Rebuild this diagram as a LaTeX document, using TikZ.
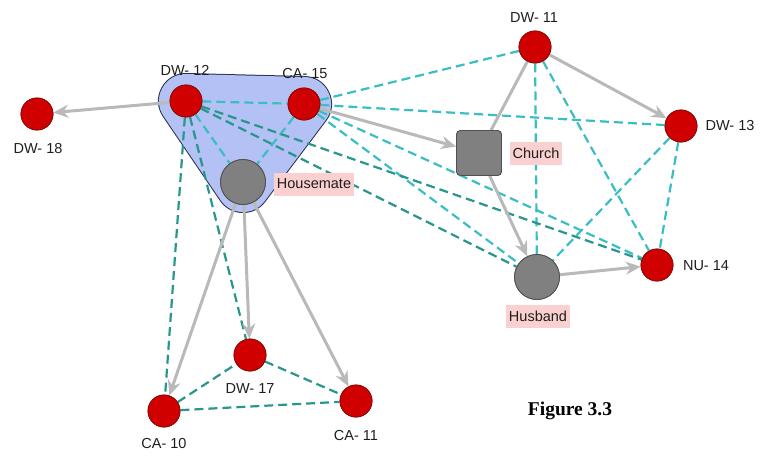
\documentclass[tikz,border=0pt]{standalone}
\usepackage{fontspec}
\setmainfont{Liberation Sans}
\newfontfamily\figfont{Liberation Serif}
\usetikzlibrary{arrows.meta}

\definecolor{actorfill}{RGB}{208,0,0}
\definecolor{actoredge}{RGB}{140,10,10}
\definecolor{placefill}{RGB}{128,128,128}
\definecolor{placeedge}{RGB}{80,80,80}
\definecolor{hullfill}{RGB}{180,193,245}
\definecolor{hulledge}{RGB}{40,48,80}
\definecolor{tiefill}{RGB}{185,185,185}
\definecolor{tealA}{RGB}{56,190,195}
\definecolor{tealB}{RGB}{40,150,140}
\definecolor{tagbg}{RGB}{250,208,208}
\definecolor{txt}{RGB}{30,30,30}

\tikzset{
  actor/.style={circle, fill=actorfill, draw=actoredge, line width=0.8pt,
                minimum size=32pt, inner sep=0pt},
  person/.style={circle, fill=placefill, draw=placeedge, line width=0.8pt,
                 minimum size=45pt, inner sep=0pt},
  place/.style={rectangle, rounded corners=4pt, fill=placefill, draw=placeedge,
                line width=0.8pt, minimum size=45pt, inner sep=0pt},
  nlabel/.style={text=txt, font=\fontsize{14.5}{16}\selectfont, inner sep=0pt},
  tag/.style={fill=tagbg, text=txt, font=\fontsize{14.5}{16}\selectfont,
              inner sep=3pt, minimum height=23pt},
  tie/.style={draw=tiefill, line width=3pt,
              -{Stealth[length=15pt,width=13pt,inset=5pt]}},
  bond/.style={draw=tiefill, line width=3pt},
  lite/.style={draw=tealA, line width=2.2pt, dash pattern=on 9pt off 5pt},
  deep/.style={draw=tealB, line width=2.2pt, dash pattern=on 9pt off 5pt},
}

\begin{document}
\begin{tikzpicture}[x=1pt, y=-1pt]
\useasboundingbox (0,0) rectangle (760,455);

% group outline around the household
\coordinate (h1) at (186,101);
\coordinate (h2) at (304,104);
\coordinate (h3) at (243,185);
\draw[hulledge, line width=56pt, line join=round] (h1) -- (h2) -- (h3) -- cycle;
\filldraw[hullfill, line width=54pt, line join=round] (h1) -- (h2) -- (h3) -- cycle;

% nodes
\node[actor]  (dw12) at (186,101) {};
\node[actor]  (ca15) at (304,104) {};
\node[actor]  (dw18) at (37,114) {};
\node[person] (house) at (243,182) {};
\node[actor]  (dw11) at (535,47) {};
\node[actor]  (dw13) at (681,126) {};
\node[place]  (church) at (479,153) {};
\node[person] (husb) at (537,277) {};
\node[actor]  (nu14) at (657,265) {};
\node[actor]  (dw17) at (250,355) {};
\node[actor]  (ca10) at (164,411) {};
\node[actor]  (ca11) at (356,401) {};

% dashed ties
\draw[lite] (dw12) -- (ca15);
\draw[lite] (dw12) -- (house);
\draw[lite] (ca15) -- (house);
\draw[lite] (ca15) -- (dw11);
\draw[lite] (ca15) -- (dw13);
\draw[lite] (ca15) -- (nu14);
\draw[lite] (ca15) -- (husb);
\draw[lite] (dw11) -- (husb);
\draw[lite] (dw11) -- (nu14);
\draw[lite] (dw13) -- (husb);
\draw[lite] (dw13) -- (nu14);
\draw[deep] (dw12) -- (ca10);
\draw[deep] (dw12) -- (dw17);
\draw[deep] (dw12) -- (husb);
\draw[deep] (dw12) -- (nu14);
\draw[deep] (ca10) -- (dw17);
\draw[deep] (ca10) -- (ca11);
\draw[deep] (dw17) -- (ca11);

% solid directed ties
\draw[tie] (dw12) -- (dw18);
\draw[tie] (ca15) -- (church);
\draw[bond] (dw11) -- (church);
\draw[tie] (dw11) -- (dw13);
\draw[tie] (church) -- (husb);
\draw[tie] (husb) -- (nu14);
\draw[tie] (house) -- (ca10);
\draw[tie] (house) -- (dw17);
\draw[tie] (house) -- (ca11);

% redraw nodes on top of the ties
\node[actor]  at (dw12) {};
\node[actor]  at (ca15) {};
\node[actor]  at (dw18) {};
\node[person] at (house) {};
\node[actor]  at (dw11) {};
\node[actor]  at (dw13) {};
\node[place]  at (church) {};
\node[person] at (husb) {};
\node[actor]  at (nu14) {};
\node[actor]  at (dw17) {};
\node[actor]  at (ca10) {};
\node[actor]  at (ca11) {};

% labels
\node[nlabel] (ldw12) at (185,70) {DW- 12};
\node[nlabel] (lca15) at (305,74) {CA- 15};
\node[nlabel] (ldw18) at (38,149) {DW- 18};
\node[nlabel] (ldw11) at (534,18) {DW- 11};
\node[nlabel] (ldw13) at (730,126) {DW- 13};
\node[nlabel] (lnu14) at (706,266) {NU- 14};
\node[nlabel] (ldw17) at (250,389) {DW- 17};
\node[nlabel] (lca10) at (164,444) {CA- 10};
\node[nlabel] (lca11) at (356,436) {CA- 11};
\node[tag] (lhouse) at (314,184) {Housemate};
\node[tag] (lchurch) at (536,153) {Church};
\node[tag] (lhusb) at (538,316) {Husband};

\node[font=\figfont\bfseries\fontsize{19.5}{22}\selectfont, text=black, inner sep=0pt]
  (fig) at (570,411) {Figure 3.3};
\end{tikzpicture}
\end{document}
